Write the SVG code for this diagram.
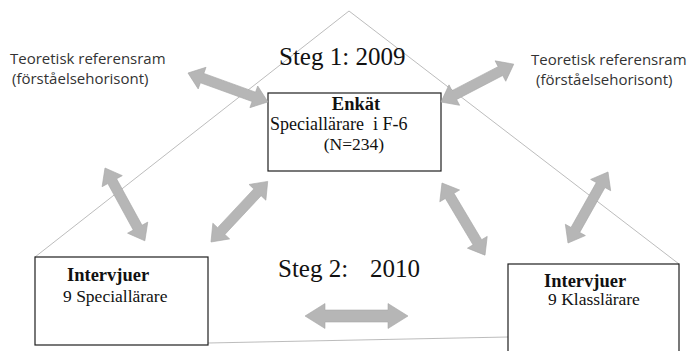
<svg xmlns="http://www.w3.org/2000/svg" width="690" height="351" viewBox="0 0 690 351">
  <style>
    .edge { fill: none; stroke: #ababab; stroke-width: 0.8; }
    .box { fill: #ffffff; stroke: #1e1e1e; stroke-width: 1.2; }
    .arrow { fill: #b6b6b6; stroke: #a8a8a8; stroke-width: 0.6; stroke-linejoin: miter; }
    .serif { font-family: "Liberation Serif", "Times New Roman", serif; fill: #111111; }
    .title { font-size: 25px; }
    .head { font-size: 18.5px; font-weight: bold; }
    .sub { font-size: 17.5px; }
    .wide { font-size: 18px; }
    .sans { font-family: "Open Sans", "Noto Sans", sans-serif; font-size: 15px; fill: #333333; }
  </style>

  <!-- triangle outline behind everything -->
  <g id="outline">
    <line class="edge" x1="349" y1="11" x2="35" y2="257"/>
    <line class="edge" x1="349" y1="11" x2="679" y2="264"/>
    <line class="edge" x1="208" y1="343" x2="508" y2="337"/>
  </g>

  <!-- stage labels -->
  <g id="steg1">
    <text class="serif title" x="279" y="65">Steg 1: 2009</text>
  </g>
  <g id="steg2">
    <text class="serif title" x="278" y="277">Steg 2: <tspan x="370">2010</tspan></text>
  </g>

  <!-- theoretical frame labels -->
  <g id="ref-left">
    <text class="sans" x="10" y="64">Teoretisk referensram</text>
    <text class="sans" x="12" y="84">(förståelsehorisont)</text>
  </g>
  <g id="ref-right">
    <text class="sans" x="531" y="65">Teoretisk referensram</text>
    <text class="sans" x="536" y="85">(förståelsehorisont)</text>
  </g>

  <!-- survey -->
  <g id="enkat">
    <rect class="box" x="268" y="93" width="173" height="78"/>
    <text class="serif head" x="356" y="110" text-anchor="middle">Enkät</text>
    <text class="serif wide" x="270" y="130" xml:space="preserve">Speciallärare  i F-6</text>
    <text class="serif sub" x="354" y="150" text-anchor="middle">(N=234)</text>
  </g>

  <!-- interviews, special teachers -->
  <g id="intervjuer-special">
    <rect class="box" x="35" y="257" width="173" height="88"/>
    <text class="serif head" x="67" y="281">Intervjuer</text>
    <text class="serif sub" x="63" y="302">9 Speciallärare</text>
  </g>

  <!-- interviews, class teachers -->
  <g id="intervjuer-klass">
    <rect class="box" x="508" y="264" width="171" height="100"/>
    <text class="serif head" x="544" y="287">Intervjuer</text>
    <text class="serif sub" x="548" y="305">9 Klasslärare</text>
  </g>

  <!-- double-headed block arrows -->
  <g id="connectors">
    <path class="arrow" transform="translate(188,73) rotate(19.9)" d="M0,0 L15,-11.5 L15,-5 L70,-5 L70,-11.5 L85,0 L70,11.5 L70,5 L15,5 L15,11.5 Z"/>
    <path class="arrow" transform="translate(441,102) rotate(-27.5)" d="M0,0 L15,-11.5 L15,-5 L67,-5 L67,-11.5 L82,0 L67,11.5 L67,5 L15,5 L15,11.5 Z"/>
    <path class="arrow" transform="translate(105,168) rotate(61.3)" d="M0,0 L15,-11.5 L15,-5 L68,-5 L68,-11.5 L83,0 L68,11.5 L68,5 L15,5 L15,11.5 Z"/>
    <path class="arrow" transform="translate(211,242) rotate(-46.9)" d="M0,0 L15,-11.5 L15,-5 L68,-5 L68,-11.5 L83,0 L68,11.5 L68,5 L15,5 L15,11.5 Z"/>
    <path class="arrow" transform="translate(442,183) rotate(59.2)" d="M0,0 L15,-11.5 L15,-5 L69,-5 L69,-11.5 L84,0 L69,11.5 L69,5 L15,5 L15,11.5 Z"/>
    <path class="arrow" transform="translate(568,243) rotate(-60.6)" d="M0,0 L15,-11.5 L15,-5 L66.5,-5 L66.5,-11.5 L81.5,0 L66.5,11.5 L66.5,5 L15,5 L15,11.5 Z"/>
    <path class="arrow" transform="translate(305,316)" d="M0,0 L20,-12.5 L20,-6 L83,-6 L83,-12.5 L103,0 L83,12.5 L83,6 L20,6 L20,12.5 Z"/>
  </g>
</svg>
